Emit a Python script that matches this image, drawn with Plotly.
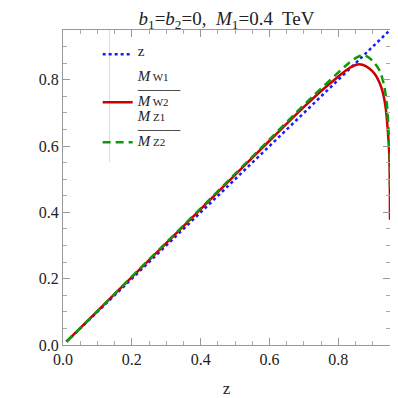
import plotly.graph_objects as go

# data
z_line = [0.01, 0.95]
z_red = [0.01, 0.1, 0.2, 0.3, 0.4, 0.5, 0.6, 0.7, 0.75, 0.8, 0.83, 0.855, 0.87,
         0.89, 0.906, 0.92, 0.93, 0.9375, 0.9426, 0.9455, 0.9475, 0.949, 0.9497, 0.95]
r_red = [0.01, 0.102, 0.205, 0.307, 0.41, 0.513, 0.616, 0.718, 0.766, 0.81, 0.834, 0.846, 0.845,
         0.834, 0.817, 0.79, 0.758, 0.715, 0.661, 0.62, 0.583, 0.53, 0.466, 0.378]
z_green = [0.01, 0.1, 0.2, 0.3, 0.4, 0.5, 0.6, 0.7, 0.75, 0.8, 0.83, 0.855, 0.872,
           0.891, 0.905, 0.92, 0.93, 0.937, 0.942, 0.945, 0.9475, 0.9495, 0.95]
r_green = [0.01, 0.102, 0.206, 0.309, 0.412, 0.516, 0.62, 0.724, 0.774, 0.822, 0.85, 0.868, 0.875,
           0.865, 0.85, 0.827, 0.795, 0.758, 0.715, 0.661, 0.61, 0.564, 0.466]

serif = "Liberation Serif"
TXT = "#222222"


def frac(a, b):
    m = "<span style='font-size:15px'><i>M</i></span>"
    s = "<span style='font-size:11px'> %s</span>"
    bar = "<span style='font-size:12px'>─────</span>"
    return m + (s % a) + "<br>" + bar + "<br>" + m + (s % b)


fig = go.Figure()
fig.add_trace(go.Scatter(x=z_line, y=z_line, mode="lines", legendgroup="a",
                         name="<span style='font-size:15px'>z</span>",
                         line=dict(color="#1a1aff", width=2.5, dash="dot")))
fig.add_trace(go.Scatter(x=z_red, y=r_red, mode="lines", line_shape="spline", legendgroup="b",
                         name=frac("W1", "W2"),
                         line=dict(color="#cc0000", width=2.5)))
fig.add_trace(go.Scatter(x=z_green, y=r_green, mode="lines", line_shape="spline", legendgroup="b",
                         name=frac("Z1", "Z2"),
                         line=dict(color="#0a9a0a", width=2.5, dash="8px,5px")))

axis_common = dict(
    showgrid=False, zeroline=False, showline=True, linecolor="#999999", linewidth=1,
    mirror="allticks", ticks="inside", ticklen=7, tickcolor="#999999",
    tickfont=dict(family=serif, size=16, color=TXT),
    dtick=0.2, tickformat=".1f",
    minor=dict(dtick=0.05, ticks="inside", ticklen=4, tickcolor="#aaaaaa"),
)

fig.update_layout(
    width=398, height=398,
    margin=dict(l=55, r=16, t=22, b=52),
    plot_bgcolor="white", paper_bgcolor="white",
    title=dict(text="<i>b</i><sub>1</sub>=<i>b</i><sub>2</sub>=0,  <i>M</i><sub>1</sub>=0.4  TeV",
               x=0.549, xanchor="center", y=0.99, yanchor="top",
               font=dict(family=serif, size=19, color=TXT)),
    xaxis=dict(range=[0, 0.95], title=dict(text="z", font=dict(family=serif, size=17, color=TXT),
                                           standoff=14), **axis_common),
    yaxis=dict(range=[0, 0.95], **axis_common),
    legend=dict(x=0.106, y=0.975, xanchor="left", yanchor="top",
                bgcolor="rgba(255,255,255,0)", borderwidth=0, valign="bottom",
                font=dict(family=serif, size=9.5, color=TXT),
                traceorder="grouped", tracegroupgap=8, itemwidth=30),
    showlegend=True,
)
fig.add_shape(type="line", xref="paper", yref="paper", x0=0.142, x1=0.142, y0=0.58, y1=1.0,
              line=dict(color="#dddddd", width=1))

fig.write_html("out.html")
